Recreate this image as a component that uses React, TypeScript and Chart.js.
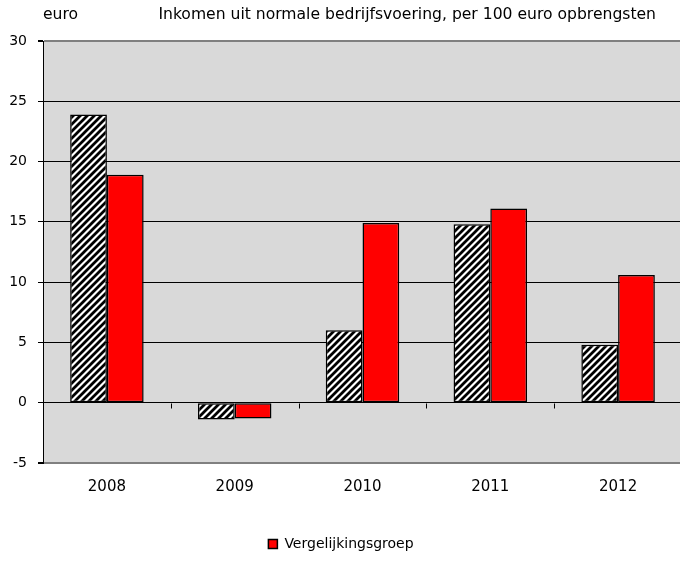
import React, { useEffect, useRef } from "react";
import { Chart, registerables } from "chart.js";

Chart.register(...registerables);

const categories = ["2008", "2009", "2010", "2011", "2012"];
const bedrijfValues = [23.9, -1.4, 6.0, 14.8, 4.8];
const vergelijkingValues = [18.9, -1.3, 14.9, 16.1, 10.6];
const seriesNames = ["Bedrijf", "Vergelijkingsgroep"];
const yTicks = [-5, 0, 5, 10, 15, 20, 25, 30];
const titleText = "Inkomen uit normale bedrijfsvoering, per 100 euro opbrengsten";
const unitText = "euro";

const FONT = "'DejaVu Sans', Verdana, sans-serif";
const CW = 682;

function makeHatch(): CanvasPattern | string {
  const c = document.createElement("canvas");
  const s = 7;
  c.width = s;
  c.height = s;
  const ctx = c.getContext("2d");
  if (!ctx) return "#888";
  ctx.fillStyle = "#ffffff";
  ctx.fillRect(0, 0, s, s);
  ctx.strokeStyle = "#000000";
  ctx.lineWidth = 2.8;
  ctx.beginPath();
  for (let k = -1; k <= 1; k++) {
    ctx.moveTo(k * s - 1, s + 1);
    ctx.lineTo(k * s + s + 1, -1);
  }
  ctx.stroke();
  const p = ctx.createPattern(c, "repeat");
  return p || "#888";
}

const bgPlugin = {
  id: "bgPlugin",
  beforeDraw(chart: any) {
    const { ctx, chartArea } = chart;
    ctx.save();
    ctx.fillStyle = "#d9d9d9";
    ctx.fillRect(chartArea.left, chartArea.top, chartArea.right - chartArea.left, chartArea.bottom - chartArea.top);
    ctx.restore();
  },
  afterDraw(chart: any) {
    const { ctx, chartArea, scales } = chart;
    ctx.save();
    ctx.fillStyle = "#000";
    ctx.font = `15.6px ${FONT}`;
    ctx.textBaseline = "middle";
    ctx.textAlign = "left";
    ctx.fillText(unitText, 43, 15);
    ctx.textAlign = "right";
    ctx.fillText(titleText, 656, 15);
    // category boundary tick marks on zero line
    const y0 = Math.round(scales.y.getPixelForValue(0)) + 0.5;
    const n = categories.length;
    const w = (chartArea.right - chartArea.left) / n;
    ctx.strokeStyle = "#000";
    ctx.lineWidth = 1;
    ctx.beginPath();
    for (let i = 1; i < n; i++) {
      const x = Math.round(chartArea.left + i * w) + 0.5;
      ctx.moveTo(x, y0);
      ctx.lineTo(x, y0 + 5);
    }
    ctx.stroke();
    ctx.restore();
  },
};

export default function App() {
  const ref = useRef<HTMLCanvasElement | null>(null);
  useEffect(() => {
    if (!ref.current) return;
    const hatch = makeHatch();
    const chart = new Chart(ref.current, {
      type: "bar",
      data: {
        labels: categories,
        datasets: [
          {
            label: seriesNames[0],
            data: bedrijfValues,
            backgroundColor: hatch as any,
            borderColor: "#000",
            borderWidth: 1.5,
            borderSkipped: false,
          },
          {
            label: seriesNames[1],
            data: vergelijkingValues,
            backgroundColor: "#ff0000",
            borderColor: "#000",
            borderWidth: 1.5,
            borderSkipped: false,
          },
        ],
      },
      options: {
        animation: false,
        responsive: false,
        maintainAspectRatio: false,
        layout: { padding: { top: 41, right: 0, bottom: 6, left: 0 } },
        datasets: { bar: { categoryPercentage: 0.575, barPercentage: 1.0 } },
        scales: {
          x: {
            grid: { display: false, drawTicks: false },
            border: { display: false },
            ticks: { color: "#000", font: { family: FONT, size: 15 }, padding: 15, maxRotation: 0 },
            afterFit(scale: any) {
              scale.height = 64;
            },
          },
          y: {
            min: -5,
            max: 30,
            afterBuildTicks(scale: any) {
              scale.ticks = yTicks.map((v) => ({ value: v }));
            },
            afterFit(scale: any) {
              scale.width = 43;
            },
            grid: {
              color: (ctx: any) => (ctx.tick && (ctx.tick.value === 30 || ctx.tick.value === -5) ? "#808080" : "#000"),
              lineWidth: (ctx: any) => (ctx.tick && (ctx.tick.value === 30 || ctx.tick.value === -5) ? 2 : 1),
              tickColor: "#000",
              tickLength: 5,
              drawTicks: true,
            },
            border: { display: true, color: "#000", width: 1 },
            ticks: { color: "#000", font: { family: FONT, size: 14 }, padding: 11 },
          },
        },
        plugins: {
          legend: {
            position: "bottom",
            align: "center",
            labels: {
              filter: (item: any) => item.datasetIndex === 1,
              boxWidth: 9,
              boxHeight: 9,
              padding: 10,
              color: "#000",
              font: { family: FONT, size: 14 },
            },
          },
          tooltip: { enabled: false },
          title: { display: false },
        },
      },
      plugins: [bgPlugin],
    });
    return () => chart.destroy();
  }, []);
  return (
    <div style={{ position: "absolute", left: 0, top: 0, width: 680, height: 567, background: "#fff", overflow: "hidden" }}>
      <canvas ref={ref} width={CW} height={567} style={{ width: CW, height: 567, display: "block" }} />
    </div>
  );
}
